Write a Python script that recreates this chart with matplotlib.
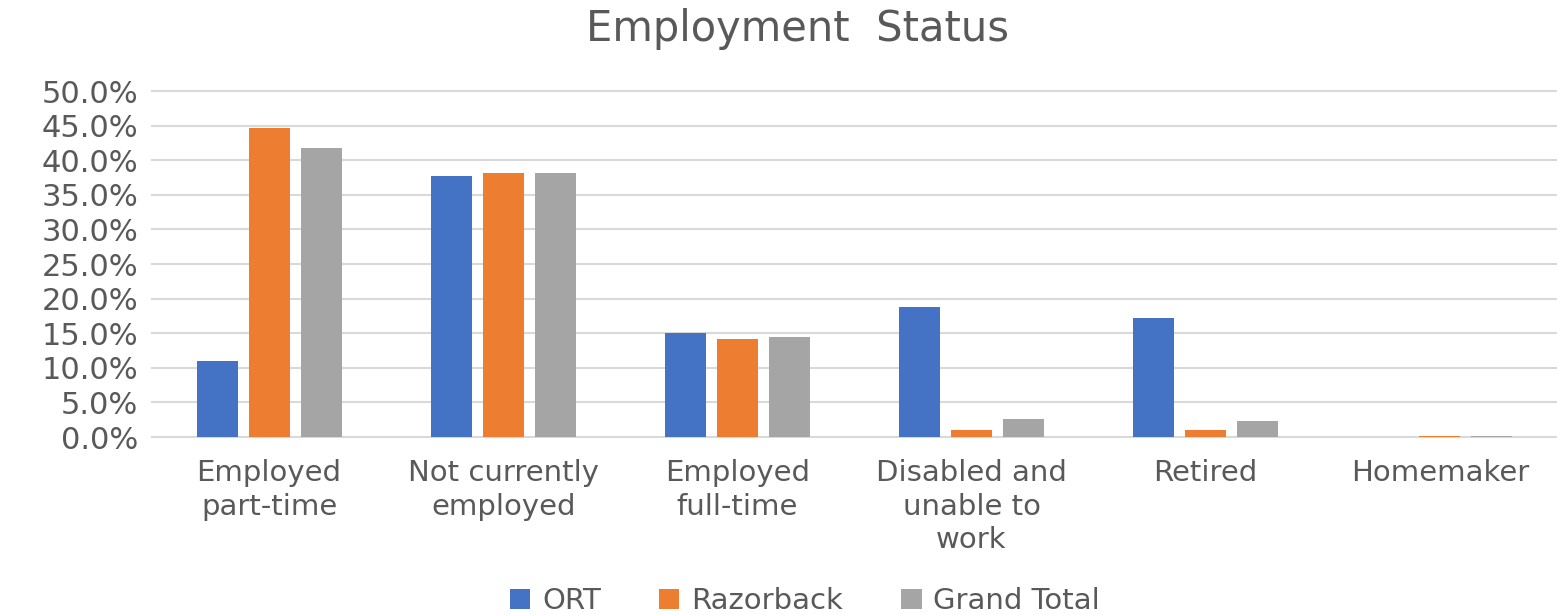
import numpy as np
import matplotlib
matplotlib.use("Agg")
import matplotlib.pyplot as plt
from matplotlib.ticker import FuncFormatter

categories = [
    "Employed\npart-time",
    "Not currently\nemployed",
    "Employed\nfull-time",
    "Disabled and\nunable to\nwork",
    "Retired",
    "Homemaker",
]
ort = [11.0, 37.7, 15.0, 18.8, 17.2, 0.0]
razorback = [44.7, 38.2, 14.2, 1.0, 1.0, 0.15]
grand_total = [41.7, 38.2, 14.5, 2.6, 2.3, 0.15]
series_names = ["ORT", "Razorback", "Grand Total"]
colors = ["#4472C4", "#ED7D31", "#A5A5A5"]
text_color = "#595959"

plt.rcParams["font.family"] = ["DejaVu Sans"]

fig = plt.figure(figsize=(15.57, 6.15), dpi=100)
ax = fig.add_axes([0.0976, 0.2894, 0.9024, 0.5626])

x = np.arange(len(categories))
width = 0.175
step = 0.222
for i, (vals, name, c) in enumerate(zip([ort, razorback, grand_total], series_names, colors)):
    ax.bar(x + (i - 1) * step, vals, width, color=c, label=name, zorder=3)

ax.set_xlim(-0.5, len(categories) - 0.5)
ax.set_ylim(0, 50)
ax.set_yticks(np.arange(0, 50.1, 5))
ax.yaxis.set_major_formatter(FuncFormatter(lambda v, p: f"{v:.1f}%"))
ax.grid(axis="y", color="#D9D9D9", linewidth=1.5, zorder=0)
ax.set_axisbelow(True)
for gl in ax.get_ygridlines():
    gl.set_clip_on(False)
for s in ax.spines.values():
    s.set_visible(False)

ax.set_xticks(x)
ax.set_xticklabels(categories, fontsize=21, color=text_color, linespacing=1.25)
ax.tick_params(axis="x", length=0, pad=16)
ax.tick_params(axis="y", length=0, pad=10, labelsize=22, labelcolor=text_color)

fig.text(0.512, 0.953, "Employment  Status", ha="center", va="center",
         fontsize=30, color=text_color)

fig.legend(loc="center", bbox_to_anchor=(0.517, 0.022), ncol=3, frameon=False,
           fontsize=21, labelcolor=text_color, handlelength=0.7, handleheight=0.7,
           handletextpad=0.4, columnspacing=2.0)

fig.savefig("out.png", dpi=100)
